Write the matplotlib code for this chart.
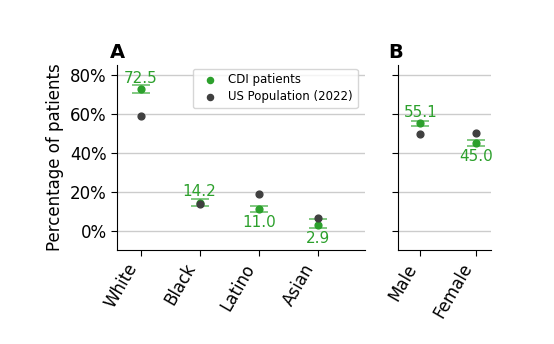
import matplotlib
matplotlib.use('Agg')

import matplotlib.pyplot as plt
import numpy as np

# race / ethnicity breakdown (%)
race_labels = ['White', 'Black', 'Latino', 'Asian']
race_cdi = [72.5, 14.2, 11.0, 2.9]
race_lo = [70.5, 12.4, 9.4, 1.4]
race_hi = [74.5, 16.0, 12.6, 5.9]
race_us = [58.9, 13.7, 19.0, 6.3]

# sex breakdown (%)
sex_labels = ['Male', 'Female']
sex_cdi = [55.1, 45.0]
sex_lo = [53.9, 43.6]
sex_hi = [56.3, 46.4]
sex_us = [49.4, 50.3]

green = '#2ca02c'
bar_green = '#6cc06c'
grey = '#404040'

fig = plt.figure(figsize=(5.54, 3.44), dpi=100)
axA = fig.add_axes([0.2112, 0.2733, 0.4477, 0.5378])
axB = fig.add_axes([0.7184, 0.2733, 0.1679, 0.5378])


def panel(ax, labels, cdi, lo, hi, us, xmax):
    x = np.arange(len(labels))
    cdi = np.array(cdi)
    err = [cdi - np.array(lo), np.array(hi) - cdi]
    ax.errorbar(x, cdi, yerr=err, fmt='none', ecolor=bar_green,
                elinewidth=1.2, capsize=6.5, capthick=1.2, zorder=2)
    ax.scatter(x, cdi, color=green, s=24, zorder=3, label='CDI patients')
    ax.scatter(x, us, color=grey, s=24, zorder=3, label='US Population (2022)')
    for xi, c, u in zip(x, cdi, us):
        if c >= u:
            ax.annotate('%.1f' % c, (xi, c), xytext=(0, 8), textcoords='offset points',
                        ha='center', va='center', color=green, fontsize=11)
        else:
            ax.annotate('%.1f' % c, (xi, c), xytext=(0, -10), textcoords='offset points',
                        ha='center', va='center', color=green, fontsize=11)
    ax.set_xticks(x)
    ax.set_xticklabels(labels, rotation=60, ha='right', fontsize=12)
    ax.set_xlim(-0.4, xmax)
    ax.set_ylim(-10, 85)
    ax.set_yticks([0, 20, 40, 60, 80])
    ax.yaxis.grid(True, color='#cccccc', linewidth=1)
    ax.set_axisbelow(True)
    for s in ['top', 'right']:
        ax.spines[s].set_visible(False)
    ax.tick_params(length=4, labelsize=12)


panel(axA, race_labels, race_cdi, race_lo, race_hi, race_us, 3.8)
panel(axB, sex_labels, sex_cdi, sex_lo, sex_hi, sex_us, 1.27)

axA.set_yticklabels(['%d%%' % v for v in axA.get_yticks()])
axB.set_yticklabels([])
axA.set_ylabel('Percentage of patients', fontsize=12)
axA.legend(loc='upper right', fontsize=8.5, markerscale=0.9,
           bbox_to_anchor=(0.985, 1.0), borderaxespad=0.3,
           handletextpad=0.6, labelspacing=0.35)

axA.text(-0.03, 1.04, 'A', transform=axA.transAxes, fontsize=14, fontweight='bold')
axB.text(-0.1, 1.04, 'B', transform=axB.transAxes, fontsize=14, fontweight='bold')

fig.savefig('out.png', dpi=100)
